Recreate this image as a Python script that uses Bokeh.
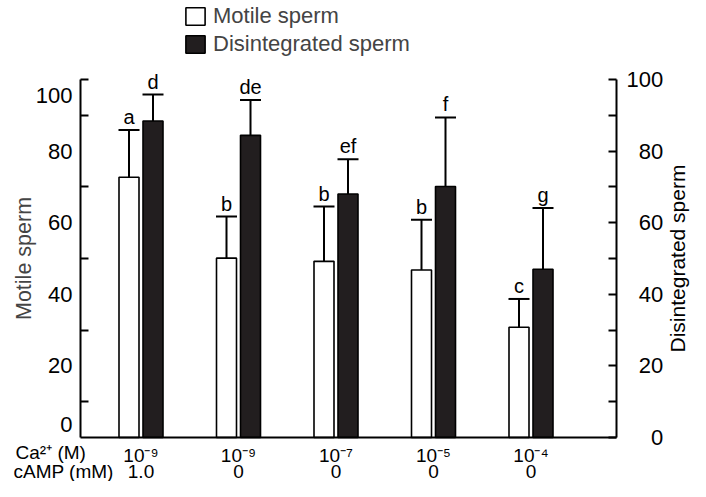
import math
import numpy as np
from bokeh.plotting import figure
from bokeh.models import (LinearAxis, FixedTicker, Range1d, ColumnDataSource,
                          Legend, LegendItem)
from bokeh.embed import file_html
from bokeh.resources import INLINE
from bokeh.core.properties import value

# ---- data ----
ca_labels = ["10\u207b\u2079", "10\u207b\u2079", "10\u207b\u2077", "10\u207b\u2075", "10\u207b\u2074"]
camp_labels = ["1.0", "0", "0", "0", "0"]
row_titles = ["Ca\u00b2\u207a (M)", "cAMP (mM)"]
motile_mean = [72.7, 50.1, 49.2, 46.8, 30.8]
motile_sd = [13.2, 11.6, 15.3, 14.0, 7.9]
motile_letters = ["a", "b", "b", "b", "c"]
disint_mean = [88.4, 84.4, 68.0, 70.1, 47.0]
disint_sd = [7.4, 9.9, 9.7, 19.3, 17.1]
disint_letters = ["d", "de", "ef", "f", "g"]
left_ticks = [0, 20, 40, 60, 80, 100]
left_minor = [10, 30, 50, 70, 90, 100]
right_ticks = [0, 20, 40, 60, 80, 100]
right_minor = [10, 30, 50, 70, 90]

FONT = "Liberation Sans"
BLACK = "#000000"
DARK = "#221e1f"

# ---- layout constants (pixels on the canvas) ----
W, H = 690, 481
G0 = 140.5                # x of first group centre
FB = 437                  # baseline y
PX_X = 97.5               # px per group unit
PX_Y = 3.58               # px per % unit
X0 = (80 - G0) / PX_X     # left axis
X1 = (616 - G0) / PX_X    # right axis

g = np.arange(len(ca_labels))
off = 12 / PX_X
bw = 20 / PX_X
capw = 10.5 / PX_X
xm = g - off
xd = g + off

src = ColumnDataSource(dict(
    g=g,
    zero=np.zeros(len(g)),
    xm=xm, xd=xd,
    xm0=xm - capw, xm1=xm + capw,
    xd0=xd - capw, xd1=xd + capw,
    m=motile_mean, d=disint_mean,
    mu=np.array(motile_mean) + np.array(motile_sd),
    du=np.array(disint_mean) + np.array(disint_sd),
    ml=motile_letters, dl=disint_letters,
    camp=camp_labels,
))

xr = Range1d(-G0 / PX_X, (W - G0) / PX_X)
yr_ = Range1d(-(H - FB) / PX_Y, FB / PX_Y)

p = figure(width=W, height=H, x_range=xr, y_range=yr_,
           output_backend="svg", toolbar_location=None,
           x_axis_location=None, y_axis_location=None, min_border=0)
p.grid.visible = False
p.outline_line_color = None
p.background_fill_color = "white"
p.border_fill_color = "white"

# error bars
p.segment(x0="xm", y0="m", x1="xm", y1="mu", source=src, line_color=BLACK, line_width=2)
p.segment(x0="xd", y0="d", x1="xd", y1="du", source=src, line_color=BLACK, line_width=2)
p.segment(x0="xm0", y0="mu", x1="xm1", y1="mu", source=src, line_color=BLACK, line_width=2)
p.segment(x0="xd0", y0="du", x1="xd1", y1="du", source=src, line_color=BLACK, line_width=2)

rm = p.vbar(x="xm", top="m", bottom=0, width=bw, source=src,
            fill_color="white", line_color=BLACK, line_width=1.6)
rd = p.vbar(x="xd", top="d", bottom=0, width=bw, source=src,
            fill_color=DARK, line_color=BLACK, line_width=1.6)

# significance letters
for xcol, ycol, tcol in (("xm", "mu", "ml"), ("xd", "du", "dl")):
    p.text(x=xcol, y=ycol, text=tcol, source=src, text_align="center",
           text_baseline="alphabetic", y_offset=-13, text_font=value(FONT),
           text_font_size="20px", text_color=BLACK)

# left axis (end labels drawn separately, nudged inward as in the original)
yl = LinearAxis(fixed_location=X0, bounds=(0, 100),
                ticker=FixedTicker(ticks=left_ticks, minor_ticks=left_minor),
                major_label_overrides={left_ticks[0]: "", left_ticks[-1]: ""},
                axis_label="Motile sperm")
yl.major_tick_in = 0
yl.major_tick_out = 0
yl.minor_tick_in = 8
yl.minor_tick_out = 0
yl.minor_tick_line_width = 2
yl.axis_line_width = 2
yl.major_label_standoff = 8
yl.major_label_text_font = FONT
yl.major_label_text_font_size = "22px"
yl.major_label_text_color = BLACK
yl.axis_label_text_font = FONT
yl.axis_label_text_font_size = "21.5px"
yl.axis_label_text_font_style = "normal"
yl.axis_label_standoff = 9
p.add_layout(yl, "left")
p.text(x=[X0, X0], y=[left_ticks[0], left_ticks[-1]],
       text=[str(left_ticks[0]), str(left_ticks[-1])],
       x_offset=-8, y_offset=[-13, 16], text_align="right", text_baseline="middle",
       text_font=value(FONT), text_font_size="22px", text_color=BLACK)

# right axis (labels right-aligned with figure spaces)
yr = LinearAxis(fixed_location=X1, bounds=(0, 100),
                ticker=FixedTicker(ticks=right_ticks, minor_ticks=right_minor),
                major_label_overrides={v: str(v).rjust(3, "\u2007") for v in right_ticks})
yr.major_tick_in = 8
yr.major_tick_out = 0
yr.major_tick_line_width = 2
yr.minor_tick_in = 8
yr.minor_tick_out = 0
yr.minor_tick_line_width = 2
yr.axis_line_width = 2
yr.major_label_standoff = 10
yr.major_label_text_font = FONT
yr.major_label_text_font_size = "22px"
yr.major_label_text_color = BLACK
p.add_layout(yr, "right")
# right axis title, reading bottom-to-top
p.text(x=[X1], y=[50], text=["Disintegrated sperm"], angle=math.pi / 2,
       x_offset=61, text_align="center", text_baseline="middle",
       text_font=value(FONT), text_font_size="21px", text_color=BLACK)

# bottom axis (baseline) with Ca labels
xb = LinearAxis(fixed_location=0, bounds=(X0, X1),
                ticker=FixedTicker(ticks=[int(i) for i in g], minor_ticks=[]),
                major_label_overrides={int(i): ca_labels[i] for i in g})
xb.major_tick_in = 0
xb.major_tick_out = 0
xb.minor_tick_in = 0
xb.minor_tick_out = 0
xb.axis_line_width = 2
xb.major_label_standoff = 7
xb.major_label_text_font = FONT
xb.major_label_text_font_size = "19px"
xb.major_label_text_color = BLACK
p.add_layout(xb, "below")

# cAMP row
p.text(x="g", y="zero", text="camp", source=src, y_offset=34,
       text_align="center", text_baseline="middle",
       text_font=value(FONT), text_font_size="19px", text_color=BLACK)
# row titles
p.text(x=[X0, X0], y=[0, 0], text=row_titles, x_offset=[-65, -67], y_offset=[15, 34],
       text_align="left", text_baseline="middle",
       text_font=value(FONT), text_font_size="19px", text_color=BLACK)

legend = Legend(items=[LegendItem(label="Motile sperm", renderers=[rm]),
                       LegendItem(label="Disintegrated sperm", renderers=[rd])],
                location=(183, H - 57), orientation="vertical",
                glyph_width=24, glyph_height=22, label_height=26, label_standoff=6,
                spacing=2, padding=0, margin=0,
                border_line_alpha=0, background_fill_alpha=0,
                label_text_font=FONT, label_text_font_size="22px",
                label_text_baseline="middle")
p.add_layout(legend)

open("out.html", "w").write(file_html(p, INLINE))
